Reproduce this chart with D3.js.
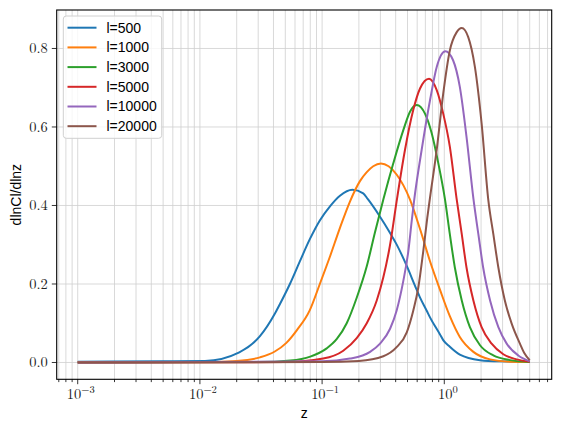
<!DOCTYPE html>
<html>
<head>
<meta charset="utf-8">
<script src="https://cdn.jsdelivr.net/npm/d3@7"></script>
<style>
  body { margin: 0; background: #fff; }
  svg { display: block; }
</style>
</head>
<body>
<div id="chart"></div>
<script>
// values, [z, dlnCl/dlnz]
const l500 = [[0.001,0.002],[0.005,0.003],[0.011,0.004],[0.021,0.026],[0.031,0.067],[0.041,0.124],
  [0.0452,0.149],[0.0545,0.2],[0.0656,0.257],[0.079,0.313],[0.0958,0.362],[0.116,0.398],[0.14,0.425],
  [0.177,0.44],[0.217,0.431],[0.237,0.416],[0.297,0.372],[0.36,0.33],[0.407,0.301],[0.493,0.246],
  [0.575,0.196],[0.632,0.166],[0.718,0.132],[0.764,0.115],[0.92,0.072],[0.98,0.057],[1.11,0.04],
  [1.34,0.02],[1.96,0.006],[2.85,0.003],[5,0.002]];
const l1000 = [[0.001,0.001],[0.01,0.001],[0.02,0.004],[0.031,0.013],[0.041,0.028],[0.051,0.05],
  [0.062,0.082],[0.079,0.132],[0.0958,0.2],[0.116,0.27],[0.14,0.343],[0.169,0.41],[0.204,0.462],
  [0.232,0.485],[0.262,0.5],[0.303,0.507],[0.35,0.5],[0.407,0.479],[0.524,0.415],[0.633,0.34],
  [0.764,0.258],[0.923,0.185],[1.11,0.118],[1.34,0.065],[1.73,0.027],[2.37,0.008],[3.5,0.002],[5,0.001]];
const l3000 = [[0.001,0],[0.03,0.001],[0.055,0.005],[0.08,0.015],[0.109,0.036],[0.132,0.06],
  [0.159,0.1],[0.192,0.165],[0.232,0.245],[0.27,0.33],[0.317,0.415],[0.383,0.508],[0.462,0.592],
  [0.524,0.639],[0.594,0.656],[0.695,0.634],[0.789,0.584],[0.893,0.508],[1.01,0.418],[1.11,0.327],
  [1.22,0.242],[1.39,0.158],[1.62,0.09],[1.96,0.044],[2.52,0.018],[3.45,0.006],[5,0.001]];
const l5000 = [[0.001,0],[0.05,0.001],[0.102,0.01],[0.149,0.03],[0.192,0.062],[0.232,0.1],
  [0.28,0.158],[0.317,0.217],[0.36,0.3],[0.407,0.41],[0.477,0.542],[0.557,0.643],[0.633,0.698],
  [0.75,0.723],[0.867,0.694],[0.98,0.634],[1.11,0.55],[1.26,0.418],[1.39,0.327],[1.52,0.242],
  [1.73,0.158],[2.02,0.09],[2.44,0.048],[3.04,0.021],[3.9,0.008],[5,0.002]];
const l10000 = [[0.001,0],[0.1,0.003],[0.169,0.01],[0.247,0.027],[0.298,0.048],[0.36,0.086],
  [0.407,0.132],[0.462,0.208],[0.508,0.284],[0.541,0.36],[0.565,0.41],[0.653,0.542],[0.764,0.668],
  [0.867,0.753],[1.02,0.793],[1.18,0.77],[1.34,0.702],[1.52,0.575],[1.73,0.418],[1.9,0.327],
  [2.08,0.242],[2.37,0.158],[2.77,0.09],[3.24,0.048],[4.03,0.018],[5,0.003]];
const l20000 = [[0.001,0],[0.1,0.001],[0.2,0.004],[0.317,0.016],[0.407,0.039],[0.493,0.077],
  [0.557,0.132],[0.613,0.191],[0.673,0.284],[0.726,0.369],[0.764,0.42],[0.867,0.542],[0.98,0.685],
  [1.11,0.795],[1.26,0.841],[1.39,0.852],[1.57,0.829],[1.78,0.753],[2.02,0.609],[2.29,0.415],
  [2.52,0.327],[2.77,0.242],[3.13,0.158],[3.56,0.099],[4.16,0.048],[4.5,0.025],[5,0.006]];

const seriesNames = ["l=500", "l=1000", "l=3000", "l=5000", "l=10000", "l=20000"];
const seriesData = [l500, l1000, l3000, l5000, l10000, l20000];
const colors = ["#1f77b4", "#ff7f0e", "#2ca02c", "#d62728", "#9467bd", "#8c564b"];
const yTicks = [0, 0.2, 0.4, 0.6, 0.8];
const xMajor = [-3, -2, -1, 0];

const width = 561, height = 430;
const plotLeft = 56.7, plotRight = 551.7, plotTop = 10, plotBottom = 379.3;

const svg = d3.select("#chart").append("svg")
  .attr("width", width).attr("height", height);

const xScale = d3.scaleLog()
  .domain([Math.pow(10, -3.172), Math.pow(10, 0.879)])
  .range([plotLeft, plotRight]);
const yScale = d3.scaleLinear()
  .domain([-0.0428, 0.898])
  .range([plotBottom, plotTop]);

// grid
const grid = svg.append("g").attr("stroke", "#cfcfcf").attr("stroke-width", 0.8);
const xAll = xScale.ticks();
grid.selectAll("line.gx").data(xAll).enter().append("line")
  .attr("x1", d => xScale(d)).attr("x2", d => xScale(d))
  .attr("y1", plotTop).attr("y2", plotBottom);
grid.selectAll("line.gy").data(yTicks).enter().append("line")
  .attr("x1", plotLeft).attr("x2", plotRight)
  .attr("y1", d => yScale(d)).attr("y2", d => yScale(d));

// lines
const line = d3.line()
  .x(d => xScale(d[0]))
  .y(d => yScale(d[1]))
  .curve(d3.curveMonotoneX);
svg.append("g").selectAll("path").data(seriesData).enter().append("path")
  .attr("d", line)
  .attr("fill", "none")
  .attr("stroke", (d, i) => colors[i])
  .attr("stroke-width", 2);

// frame
svg.append("rect")
  .attr("x", plotLeft).attr("y", plotTop)
  .attr("width", plotRight - plotLeft).attr("height", plotBottom - plotTop)
  .attr("fill", "none").attr("stroke", "#000").attr("stroke-width", 1.1);

// ticks
const tickG = svg.append("g").attr("stroke", "#000").attr("stroke-width", 0.8);
tickG.selectAll("line.xt").data(xAll).enter().append("line")
  .attr("x1", d => xScale(d)).attr("x2", d => xScale(d))
  .attr("y1", plotBottom)
  .attr("y2", d => {
    const p = Math.log10(d);
    return plotBottom + (Math.abs(p - Math.round(p)) < 1e-6 ? 4.9 : 2.8);
  });
tickG.selectAll("line.yt").data(yTicks).enter().append("line")
  .attr("x1", plotLeft - 4.9).attr("x2", plotLeft)
  .attr("y1", d => yScale(d)).attr("y2", d => yScale(d));

const serif = "'Latin Modern Roman','CMU Serif','Liberation Serif',serif";
const xl = svg.append("g").selectAll("text").data(xMajor).enter().append("text")
  .attr("x", d => xScale(Math.pow(10, d)) + (d < 0 ? 3 : 3.5))
  .attr("y", 399)
  .attr("text-anchor", "middle")
  .attr("font-family", serif)
  .attr("font-size", 14.5)
  .attr("fill", "#222");
xl.append("tspan").text("10");
xl.append("tspan").attr("dy", -6).attr("font-size", 10.5)
  .text(d => d < 0 ? "\u2212" + (-d) : d);

svg.append("g").selectAll("text").data(yTicks).enter().append("text")
  .attr("x", plotLeft - 9)
  .attr("y", d => yScale(d))
  .attr("dy", "0.33em")
  .attr("text-anchor", "end")
  .attr("font-family", serif)
  .attr("font-size", 14.5)
  .attr("fill", "#222")
  .text(d => d.toFixed(1));

const sans = "'Liberation Sans', Arial, sans-serif";
svg.append("text")
  .attr("x", (plotLeft + plotRight) / 2).attr("y", 418)
  .attr("text-anchor", "middle")
  .attr("font-family", sans).attr("font-size", 14)
  .text("z");
svg.append("text")
  .attr("transform", `translate(21,${(plotTop + plotBottom) / 2}) rotate(-90)`)
  .attr("text-anchor", "middle")
  .attr("font-family", sans).attr("font-size", 14)
  .text("dlnCl/dlnz");

// legend
const legend = svg.append("g");
legend.append("rect")
  .attr("x", 63.3).attr("y", 16)
  .attr("width", 98.4).attr("height", 122.3)
  .attr("rx", 3)
  .attr("fill", "#fff").attr("fill-opacity", 0.8)
  .attr("stroke", "#d0d0d0").attr("stroke-width", 1);
const rows = legend.selectAll("g.row").data(seriesNames).enter().append("g")
  .attr("transform", (d, i) => `translate(0,${27.7 + i * 19.7})`);
rows.append("line")
  .attr("x1", 67.5).attr("x2", 96.5)
  .attr("stroke", (d, i) => colors[i]).attr("stroke-width", 2);
rows.append("text")
  .attr("x", 106.5).attr("dy", "0.35em")
  .attr("font-family", sans).attr("font-size", 14)
  .text(d => d);
</script>
</body>
</html>
